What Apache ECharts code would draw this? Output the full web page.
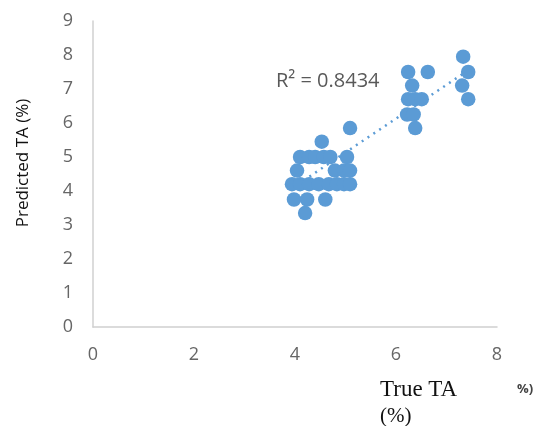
<!DOCTYPE html>
<html>
<head>
<meta charset="utf-8">
<script src="https://cdn.jsdelivr.net/npm/echarts@6/dist/echarts.min.js"></script>
<style>html,body{margin:0;padding:0;background:#fff;}#c{width:543px;height:426px;}</style>
</head>
<body>
<div id="c"></div>
<script>
var trueTA = [
  4.10,4.28,4.40,4.57,4.70,5.03,
  4.04,4.79,4.97,5.09,
  3.94,4.10,4.28,4.47,4.67,4.83,4.97,5.09,
  3.98,4.24,4.60,
  4.20,4.53,5.09,
  7.33,6.24,6.63,7.43,6.32,7.31,
  6.24,6.38,6.51,7.43,
  6.22,6.35,6.38
];
var predictedTA = [
  5.00,5.00,5.00,5.00,5.00,5.00,
  4.60,4.60,4.60,4.60,
  4.20,4.20,4.20,4.20,4.20,4.20,4.20,4.20,
  3.75,3.75,3.75,
  3.35,5.45,5.85,
  7.95,7.50,7.50,7.50,7.10,7.10,
  6.70,6.70,6.70,6.70,
  6.25,6.25,5.85
];
var trendX = [3.94, 7.43];
var trendY = [4.08, 7.55];
var xTicks = [0, 2, 4, 6, 8];
var yTicks = [0, 1, 2, 3, 4, 5, 6, 7, 8, 9];
var r2Label = 'R² = 0.8434';
var yTitle = 'Predicted TA (%)';

var pts = trueTA.map(function (x, i) { return [x, predictedTA[i]]; });
var trend = trendX.map(function (x, i) { return [x, trendY[i]]; });

var chart = echarts.init(document.getElementById('c'));
chart.setOption({
  animation: false,
  grid: { left: 93, right: 46, top: 21, bottom: 99 },
  xAxis: {
    type: 'value', min: xTicks[0], max: xTicks[xTicks.length - 1], interval: 2,
    axisLine: { show: true, lineStyle: { color: '#d0d0d0', width: 1.5 } },
    axisTick: { show: false },
    splitLine: { show: false },
    axisLabel: { color: '#666', fontSize: 18, fontFamily: 'Open Sans, sans-serif', margin: 19 }
  },
  yAxis: {
    type: 'value', min: yTicks[0], max: yTicks[yTicks.length - 1], interval: 1,
    axisLine: { show: true, lineStyle: { color: '#d0d0d0', width: 1.5 } },
    axisTick: { show: false },
    splitLine: { show: false },
    axisLabel: { color: '#666', fontSize: 18, fontFamily: 'Open Sans, sans-serif', margin: 20 }
  },
  series: [
    {
      type: 'line', data: trend, symbol: 'none', z: 1,
      lineStyle: { color: '#5b9bd5', width: 2.5, type: [2, 5] }
    },
    {
      type: 'scatter', data: pts, symbolSize: 14.5, z: 2,
      itemStyle: { color: '#5b9bd5', opacity: 1 }
    }
  ],
  graphic: [
    { type: 'text', x: 23, y: 163, rotation: Math.PI / 2,
      style: { text: yTitle, fill: '#111', font: '17px "Open Sans", sans-serif', textAlign: 'center', textVerticalAlign: 'middle' } },
    { type: 'text', x: 276, y: 81, style: { text: r2Label, fill: '#595959', font: '20px "Open Sans", sans-serif', textVerticalAlign: 'middle' } },
    { type: 'text', x: 380, y: 390, style: { text: 'True TA', fill: '#111', font: '23px "Liberation Serif", serif', textVerticalAlign: 'middle' } },
    { type: 'text', x: 380, y: 416, style: { text: '(%)', fill: '#111', font: '21px "Liberation Serif", serif', textVerticalAlign: 'middle' } },
    { type: 'text', x: 517, y: 389, style: { text: '%)', fill: '#444', font: 'bold 13px "Open Sans", sans-serif', textVerticalAlign: 'middle' } }
  ]
});
</script>
</body>
</html>
